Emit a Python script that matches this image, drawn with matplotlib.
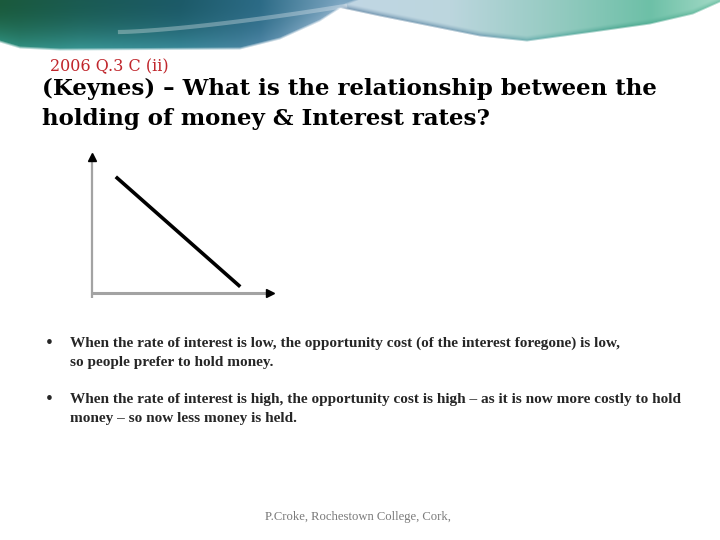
import numpy as np
import matplotlib
matplotlib.use("Agg")
import matplotlib.pyplot as plt
from matplotlib.colors import to_rgb

# ---- data ----
quantity_of_money = [1.3, 8.1]      # horizontal position of demand line ends
interest_rate = [8.3, 0.45]         # vertical position of demand line ends

subtitle = "2006 Q.3 C (ii)"
title_lines = ["(Keynes) \u2013 What is the relationship between the",
               "holding of money & Interest rates?"]
bullet1 = ["When the rate of interest is low, the opportunity cost (of the interest foregone) is low,",
           "so people prefer to hold money."]
bullet2 = ["When the rate of interest is high, the opportunity cost is high \u2013 as it is now more costly to hold",
           "money \u2013 so now less money is held."]
footer = "P.Croke, Rochestown College, Cork,"

W, H = 720, 540
fig = plt.figure(figsize=(7.2, 5.4), dpi=100)
fig.patch.set_facecolor("white")
bg = fig.add_axes([0, 0, 1, 1])
bg.set_xlim(0, W)
bg.set_ylim(H, 0)
bg.axis("off")

# ---- decorative banner ----
BH = 60
xs = np.arange(W) + 0.5
ys = np.arange(BH) + 0.5
Y = ys[:, None]


def ramp(stx, stc):
    c = np.array([to_rgb(s) for s in stc])
    return np.stack([np.interp(xs, stx, c[:, k]) for k in range(3)], axis=1)


# left (dark teal) shape
le = np.interp(xs, [0, 20, 60, 240, 280, 320, 345, 360, 720], [43, 49, 51, 50, 40, 22, 6, 0, 0])
ltop = ramp([0, 80, 180, 260, 340], ["#1a5a3c", "#1a5b52", "#1c5a68", "#2c6b86", "#7aa4c0"])
lbot = ramp([0, 80, 180, 260, 340], ["#2f8f7e", "#3a9a98", "#3a8c9c", "#4f86a6", "#9ab8d0"])
fr = np.clip(Y / np.maximum(le[None, :], 1), 0, 1) ** 2
left = np.zeros((BH, W, 4))
for k in range(3):
    left[:, :, k] = ltop[None, :, k] * (1 - fr) + lbot[None, :, k] * fr
left[:, :, 3] = np.clip((le[None, :] - Y) / 3.0, 0, 1)

# right (light blue / green) shape
re = np.interp(xs, [0, 300, 310, 380, 480, 527, 593, 650, 693, 720],
               [0, 0, 2, 17, 37, 42, 33, 25, 15, 3])
rbase = ramp([310, 450, 560, 650, 720], ["#c3d6e6", "#bcd6de", "#93cac0", "#6dc0a7", "#a3dac6"])
rband = ramp([310, 480, 540, 620, 720], ["#56799a", "#5a8aa6", "#4fa3a0", "#3f9f88", "#5fb89a"])
dist = re[None, :] - Y
bw = np.clip(1 - dist / 7.0, 0, 1) ** 1.5
right = np.zeros((BH, W, 4))
for k in range(3):
    right[:, :, k] = rbase[None, :, k] * (1 - bw) + rband[None, :, k] * bw
right[:, :, 3] = np.clip(dist / 2.0, 0, 1)

bg.imshow(right, extent=(0, W, BH, 0), interpolation="bilinear", zorder=0, aspect="auto")
bg.imshow(left, extent=(0, W, BH, 0), interpolation="bilinear", zorder=0.5, aspect="auto")
# soft light streak
sx = np.linspace(120, 345, 60)
bg.plot(sx, 32 - 26 * ((sx - 120) / 225) ** 1.4, color="white", lw=3, alpha=0.3, zorder=1)
bg.set_xlim(0, W)
bg.set_ylim(H, 0)

# ---- text ----
serif = ["Liberation Serif", "DejaVu Serif"]
bg.text(50, 71, subtitle, color="#c0262c", fontsize=11.5, family=["DejaVu Serif"], va="baseline")
bg.text(42, 94.5, title_lines[0], color="black", fontsize=16.5, fontweight="bold",
        family=["DejaVu Serif"], va="baseline")
bg.text(42, 124.5, title_lines[1], color="black", fontsize=16.5, fontweight="bold",
        family=["DejaVu Serif"], va="baseline")

bcol = "#262626"
bfs = 11.0
bg.text(46, 348, "\u2022", fontsize=14, color=bcol, family=serif, va="baseline")
bg.text(70, 347, bullet1[0], fontsize=bfs, fontweight="bold", color=bcol, family=serif, va="baseline")
bg.text(70, 366, bullet1[1], fontsize=bfs, fontweight="bold", color=bcol, family=serif, va="baseline")
bg.text(46, 404, "\u2022", fontsize=14, color=bcol, family=serif, va="baseline")
bg.text(70, 403, bullet2[0], fontsize=bfs, fontweight="bold", color=bcol, family=serif, va="baseline")
bg.text(70, 422, bullet2[1], fontsize=bfs, fontweight="bold", color=bcol, family=serif, va="baseline")

bg.text(265, 520, footer, fontsize=9.1, color="#7a7a7a", family=serif, va="baseline")

# ---- chart ----
x0, x1, ytop, ybot = 92, 275, 153, 293
ax = fig.add_axes([x0 / W, (H - ybot) / H, (x1 - x0) / W, (ybot - ytop) / H])
ax.set_xlim(0, 10)
ax.set_ylim(0, 10)
ax.axis("off")
gray = "#a3a3a3"
ax.plot([0, 0], [-0.35, 9.6], color=gray, lw=1.6, clip_on=False, solid_capstyle="butt")
ax.plot([0, 9.6], [0, 0], color=gray, lw=2.2, clip_on=False, solid_capstyle="butt")
ax.plot([0], [9.75], marker="^", color="black", markersize=6, clip_on=False)
ax.plot([9.75], [0], marker=">", color="black", markersize=6, clip_on=False)
ax.plot(quantity_of_money, interest_rate, color="black", lw=2.6, solid_capstyle="butt")

fig.savefig("out.png", dpi=100)
